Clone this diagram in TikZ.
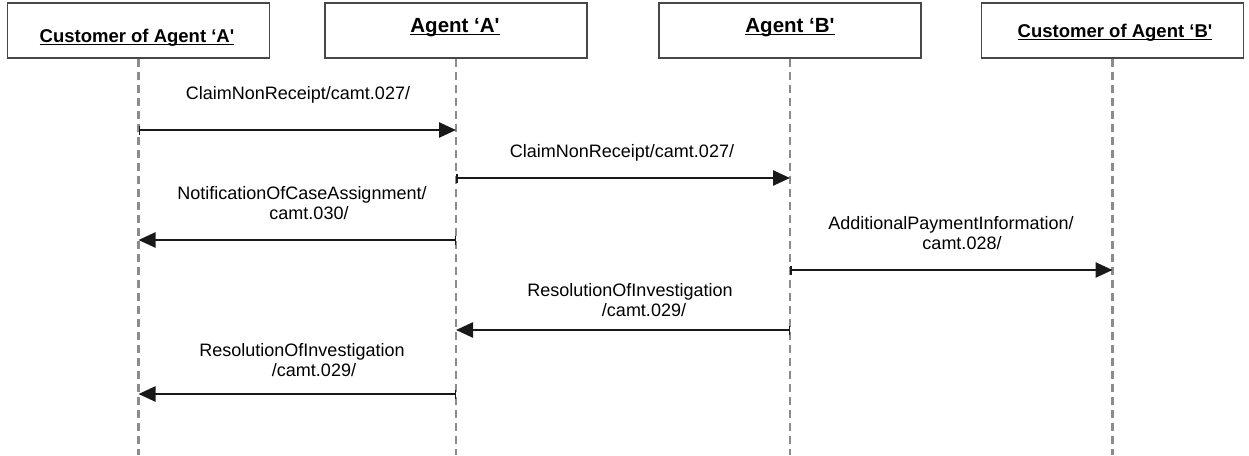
\documentclass[tikz,border=0pt]{standalone}
\usepackage{fontspec}
\setmainfont{Liberation Sans}
\usetikzlibrary{arrows.meta}

\tikzset{
  actor/.style={draw=black!72, line width=1.8pt, fill=white,
    minimum width=262pt, minimum height=55pt, inner sep=0pt},
  lifeline/.style={draw=black!45, line width=2.1pt, dash pattern=on 8pt off 5pt},
  msg/.style={draw=black!90, line width=2.5pt,
    {Bar[width=9pt,line width=1.5pt]}-{Triangle[length=17pt,width=15pt]}},
  msglabel/.style={font=\fontsize{18}{20}\selectfont, align=center, inner sep=0pt},
  actorlabel/.style={font=\fontsize{18.5}{20}\selectfont\bfseries, inner sep=0pt},
  agentlabel/.style={font=\fontsize{20.5}{22}\selectfont\bfseries, inner sep=0pt},
  uline/.style={draw=black, line width=1.8pt}
}

\begin{document}
\begin{tikzpicture}[x=1pt,y=-1pt]
  \useasboundingbox (0,0) rectangle (1249,455);

  % participants
  \node[actor] (custA) at (138.5,30.5) {};
  \node[actor] (agA)   at (456,30.5) {};
  \node[actor] (agB)   at (790,30.5) {};
  \node[actor] (custB) at (1112.5,30.5) {};

  \node[actorlabel, anchor=base] (tcustA) at (137,42) {Customer of Agent ‘A\textquotesingle};
  \node[agentlabel, anchor=base] (tagA)   at (455,32) {Agent ‘A\textquotesingle};
  \node[agentlabel, anchor=base] (tagB)   at (790,32) {Agent ‘B\textquotesingle};
  \node[actorlabel, anchor=base] (tcustB) at (1115,37) {Customer of Agent ‘B\textquotesingle};

  % underlines of the participant names
  \foreach \t in {tcustA,tagA,tagB,tcustB}
    \draw[uline] ([yshift=-2.5pt]\t.base west) -- ([yshift=-2.5pt]\t.base east);

  % lifelines
  \coordinate (endA)  at (custA.south |- 0,455);
  \coordinate (endAA) at (agA.south |- 0,455);
  \coordinate (endBB) at (agB.south |- 0,455);
  \coordinate (endB)  at (custB.south |- 0,455);
  \draw[lifeline] (custA.south) -- (endA);
  \draw[lifeline] (agA.south) -- (endAA);
  \draw[lifeline] (agB.south) -- (endBB);
  \draw[lifeline] (custB.south) -- (endB);

  % message anchor points on the lifelines
  \coordinate (m1s) at (custA.south |- 0,130);
  \coordinate (m1e) at (agA.south |- 0,130);
  \coordinate (m2s) at (agA.south |- 0,178);
  \coordinate (m2e) at (agB.south |- 0,178);
  \coordinate (m3s) at (agA.south |- 0,240);
  \coordinate (m3e) at (custA.south |- 0,240);
  \coordinate (m4s) at (agB.south |- 0,270);
  \coordinate (m4e) at (custB.south |- 0,270);
  \coordinate (m5s) at (agB.south |- 0,330);
  \coordinate (m5e) at (agA.south |- 0,330);
  \coordinate (m6s) at (agA.south |- 0,394);
  \coordinate (m6e) at (custA.south |- 0,394);

  % messages
  \draw[msg] (m1s) -- (m1e);
  \node[msglabel] (l1) at (298,95) {ClaimNonReceipt/camt.027/};

  \draw[msg] (m2s) -- (m2e);
  \node[msglabel] (l2) at (622,153) {ClaimNonReceipt/camt.027/};

  \draw[msg] (m3s) -- (m3e);
  \node[msglabel] (l3) at (302,203) {NotificationOfCaseAssignment/\\\hspace*{14pt}camt.030/};

  \draw[msg] (m4s) -- (m4e);
  \node[msglabel] (l4) at (951,233) {AdditionalPaymentInformation/\\\hspace*{22pt}camt.028/};

  \draw[msg] (m5s) -- (m5e);
  \node[msglabel] (l5) at (630,300) {ResolutionOfInvestigation\\\hspace*{28pt}/camt.029/};

  \draw[msg] (m6s) -- (m6e);
  \node[msglabel] (l6) at (302,360) {ResolutionOfInvestigation\\\hspace*{24pt}/camt.029/};
\end{tikzpicture}
\end{document}
